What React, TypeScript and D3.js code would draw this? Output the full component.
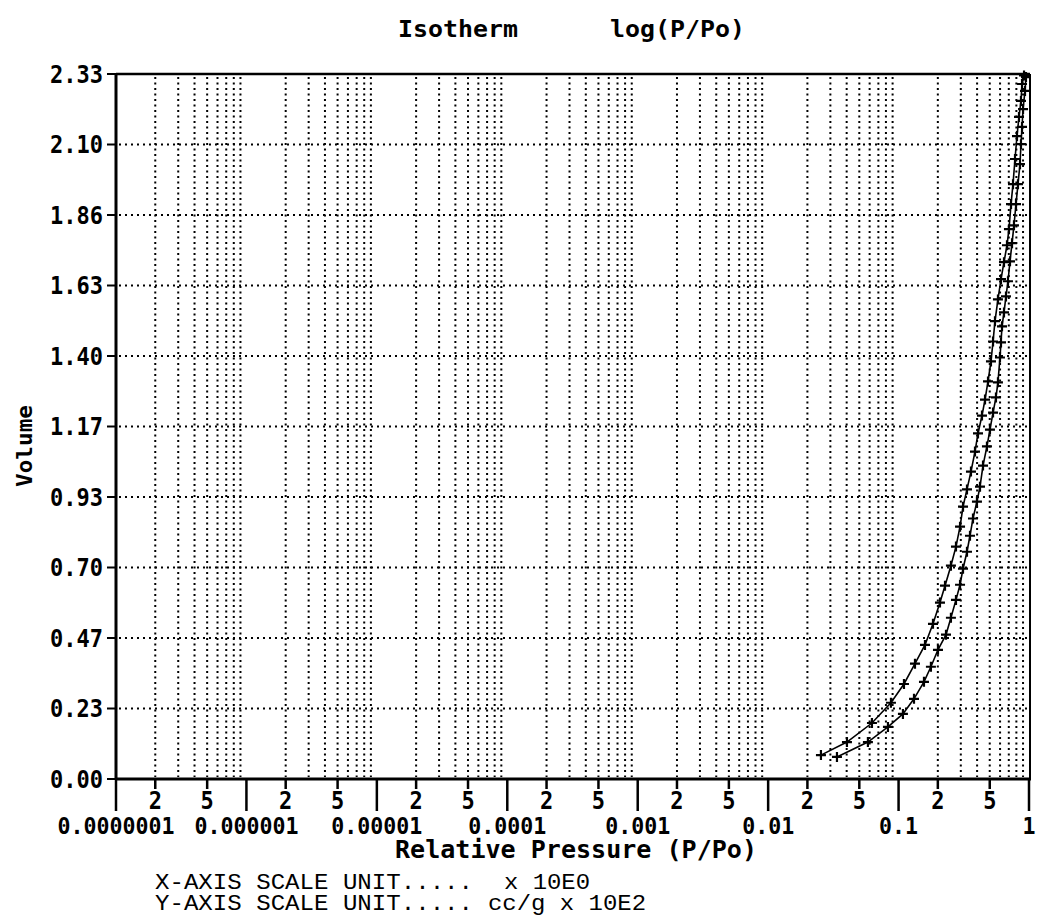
import React from 'react';
import * as d3 from 'd3';

// ---- data ----
const yTickValues = [0, 0.233, 0.466, 0.699, 0.932, 1.165, 1.398, 1.631, 1.864, 2.097, 2.33];
const yTickLabels = ['0.00', '0.23', '0.47', '0.70', '0.93', '1.17', '1.40', '1.63', '1.86', '2.10', '2.33'];
const decadeValues = [1e-7, 1e-6, 1e-5, 1e-4, 1e-3, 1e-2, 1e-1, 1];
const decadeLabels = ['0.0000001', '0.000001', '0.00001', '0.0001', '0.001', '0.01', '0.1', '1'];
const minorMultipliers = [2, 3, 4, 5, 6, 7, 8, 9];
const labeledMultipliers = [2, 5];

// upper (left) branch
const desorptionP = [0.0254, 0.0402, 0.0625, 0.0874, 0.110, 0.1336, 0.1594, 0.1836, 0.2077, 0.227, 0.252, 0.2755, 0.296, 0.312, 0.3346, 0.359, 0.3854, 0.4064, 0.436, 0.46, 0.485, 0.511, 0.530, 0.5485, 0.578, 0.610, 0.643, 0.678, 0.702, 0.728, 0.754, 0.781, 0.809, 0.838, 0.868, 0.884, 0.916];
const desorptionV = [0.079, 0.122, 0.185, 0.252, 0.314, 0.381, 0.443, 0.513, 0.583, 0.639, 0.705, 0.768, 0.834, 0.900, 0.957, 1.016, 1.082, 1.142, 1.201, 1.254, 1.314, 1.380, 1.446, 1.513, 1.585, 1.652, 1.708, 1.764, 1.817, 1.900, 1.966, 2.049, 2.125, 2.188, 2.241, 2.297, 2.325];

// lower (right) branch
const adsorptionP = [0.0337, 0.0582, 0.0829, 0.108, 0.1313, 0.1566, 0.177, 0.2005, 0.231, 0.252, 0.2755, 0.296, 0.312, 0.3346, 0.3528, 0.372, 0.399, 0.421, 0.444, 0.476, 0.502, 0.530, 0.558, 0.578, 0.599, 0.610, 0.621, 0.643, 0.666, 0.690, 0.715, 0.741, 0.767, 0.795, 0.823, 0.853, 0.868, 0.884, 0.900, 0.932, 0.948];
const adsorptionV = [0.073, 0.122, 0.172, 0.215, 0.265, 0.321, 0.371, 0.427, 0.477, 0.533, 0.592, 0.642, 0.695, 0.751, 0.804, 0.861, 0.917, 0.966, 1.036, 1.099, 1.155, 1.211, 1.261, 1.311, 1.393, 1.443, 1.496, 1.542, 1.595, 1.645, 1.711, 1.771, 1.830, 1.900, 1.966, 2.032, 2.098, 2.155, 2.214, 2.274, 2.320];

const W = 1037;
const H = 918;
const left = 116;
const right = 1029;
const top = 74;
const bottom = 779;

const bitmapFont = '"DejaVu Sans Mono", monospace';
const courierFont = '"Courier New", "Liberation Mono", monospace';

type TxtProps = {
  x: number;
  y: number;
  size: number;
  anchor?: 'start' | 'middle' | 'end';
  sy?: number;
  len?: number;
  family?: string;
  bold?: boolean;
  children: string;
};

function Txt({ x, y, size, anchor = 'start', sy = 1.12, len, family = bitmapFont, bold = true, children }: TxtProps) {
  return (
    <text
      transform={`translate(${x},${y}) scale(1,${sy})`}
      textAnchor={anchor}
      fontFamily={family}
      fontWeight={bold ? 'bold' : 'normal'}
      fontSize={size}
      fill="#000"
      textLength={len}
      lengthAdjust={len ? 'spacingAndGlyphs' : undefined}
    >
      {children}
    </text>
  );
}

export default function App() {
  const x = d3.scaleLog().domain([1e-7, 1]).range([left, right]);
  const y = d3.scaleLinear().domain([0, 2.33]).range([bottom, top]);

  const minorValues: { v: number; m: number }[] = [];
  decadeValues.slice(0, -1).forEach((d) => {
    minorMultipliers.forEach((m) => minorValues.push({ v: d * m, m }));
  });

  const line = d3
    .line<[number, number]>()
    .x((d) => x(d[0]))
    .y((d) => y(d[1]));

  const des: [number, number][] = desorptionP.map((p, i) => [p, desorptionV[i]]);
  const ads: [number, number][] = adsorptionP.map((p, i) => [p, adsorptionV[i]]);

  const marker = (d: [number, number], k: string) => {
    const cx = x(d[0]);
    const cy = y(d[1]);
    const s = 5;
    return (
      <path
        key={k}
        d={`M${cx - s},${cy}H${cx + s}M${cx},${cy - s}V${cy + s}`}
        stroke="#000"
        strokeWidth={2.2}
        fill="none"
      />
    );
  };

  return (
    <svg
      width={W}
      height={H}
      style={{ position: 'absolute', left: 0, top: 0, background: '#fff' }}
    >
      <rect x={0} y={0} width={W} height={H} fill="#fff" />

      {/* title */}
      <Txt x={398} y={37} size={22} len={120} sy={1.05}>Isotherm</Txt>
      <Txt x={610} y={37} size={22} len={135} sy={1.05}>log(P/Po)</Txt>

      {/* vertical dotted grid */}
      {minorValues.map((d, i) => (
        <line
          key={'vg' + i}
          x1={x(d.v)}
          x2={x(d.v)}
          y1={top + 3}
          y2={bottom - 2}
          stroke="#000"
          strokeWidth={2}
          strokeDasharray="2,3.5"
        />
      ))}

      {/* horizontal dotted grid */}
      {yTickValues.slice(1, -1).map((v, i) => (
        <line
          key={'hg' + i}
          x1={left + 3}
          x2={right}
          y1={y(v)}
          y2={y(v)}
          stroke="#000"
          strokeWidth={2}
          strokeDasharray="2,4"
        />
      ))}

      {/* frame */}
      <line x1={left} x2={right + 1} y1={top} y2={top} stroke="#000" strokeWidth={2.5} />
      <line x1={right + 1} x2={right + 1} y1={top} y2={bottom} stroke="#000" strokeWidth={2} />
      <line x1={left} x2={left} y1={top - 1} y2={bottom + 1} stroke="#000" strokeWidth={3} />
      <line x1={left} x2={right + 2} y1={bottom} y2={bottom} stroke="#000" strokeWidth={3} />

      {/* y ticks & labels */}
      {yTickValues.map((v, i) => (
        <g key={'yt' + i}>
          <line x1={left - 9} x2={left} y1={y(v)} y2={y(v)} stroke="#000" strokeWidth={2} />
          <Txt x={left - 13} y={y(v) + 8.5} size={22} anchor="end" sy={1.15}>
            {yTickLabels[i]}
          </Txt>
        </g>
      ))}

      {/* x ticks */}
      {decadeValues.map((v, i) => (
        <g key={'xd' + i}>
          <line x1={x(v)} x2={x(v)} y1={bottom} y2={bottom + 32} stroke="#000" strokeWidth={2.5} />
          <Txt x={x(v)} y={834} size={21} anchor="middle" sy={1.12} len={decadeLabels[i].length * 13}>
            {decadeLabels[i]}
          </Txt>
        </g>
      ))}
      {minorValues
        .filter((d) => labeledMultipliers.includes(d.m))
        .map((d, i) => (
          <g key={'xm' + i}>
            <line x1={x(d.v)} x2={x(d.v)} y1={bottom} y2={bottom + 10} stroke="#000" strokeWidth={2.5} />
            <Txt x={x(d.v)} y={809} size={22} anchor="middle" sy={1.15}>
              {String(d.m)}
            </Txt>
          </g>
        ))}

      {/* axis titles */}
      <Txt x={395} y={858} size={23} len={362} sy={1.05}>Relative Pressure (P/Po)</Txt>
      <text
        transform={`translate(32, 446) rotate(-90)`}
        textAnchor="middle"
        fontFamily={bitmapFont}
        fontWeight="bold"
        fontSize={22}
        fill="#000"
        textLength={82}
        lengthAdjust="spacingAndGlyphs"
      >
        Volume
      </text>

      {/* notes */}
      <Txt x={155} y={889} size={21} family={courierFont} bold={false} sy={1.05} len={318}>
        X-AXIS SCALE UNIT.....
      </Txt>
      <Txt x={504} y={889} size={21} family={courierFont} bold={false} sy={1.05} len={86}>
        x 10E0
      </Txt>
      <Txt x={155} y={910} size={21} family={courierFont} bold={false} sy={1.05} len={318}>
        Y-AXIS SCALE UNIT.....
      </Txt>
      <Txt x={488} y={910} size={21} family={courierFont} bold={false} sy={1.05} len={158}>
        cc/g x 10E2
      </Txt>

      {/* curves */}
      <path d={line(des) || ''} fill="none" stroke="#000" strokeWidth={1.6} />
      <path d={line(ads) || ''} fill="none" stroke="#000" strokeWidth={1.6} />
      {des.map((d, i) => marker(d, 'dm' + i))}
      {ads.map((d, i) => marker(d, 'am' + i))}
    </svg>
  );
}
